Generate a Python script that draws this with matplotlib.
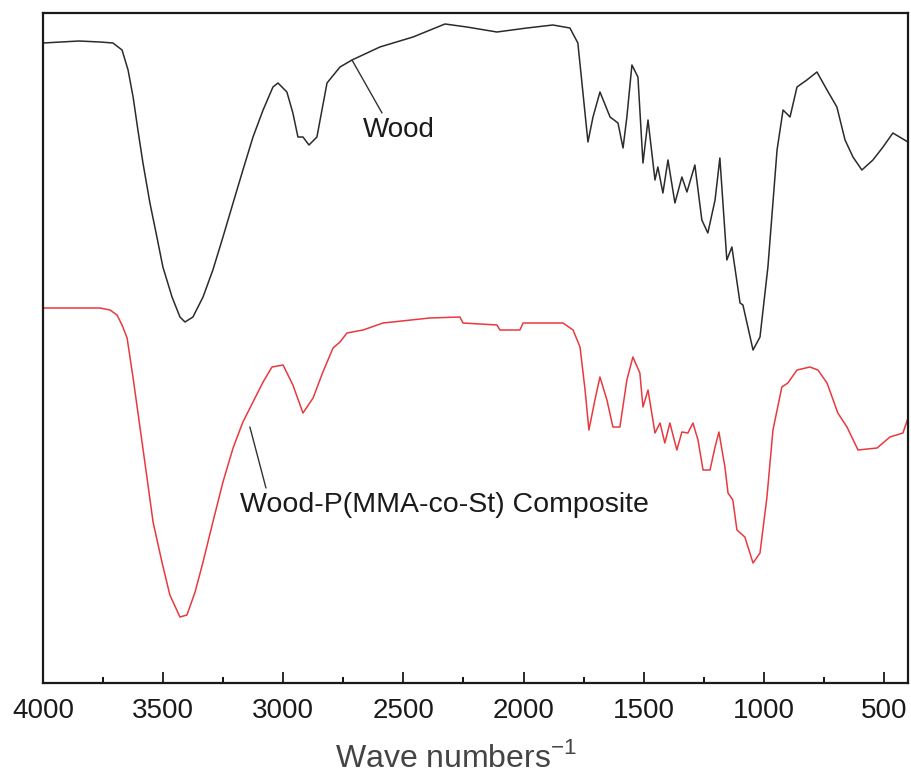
import matplotlib
matplotlib.use("Agg")
import matplotlib.pyplot as plt
from matplotlib.ticker import MultipleLocator

plt.rcParams['font.family'] = ['Liberation Sans', 'DejaVu Sans']
plt.rcParams['mathtext.fontset'] = 'custom'
plt.rcParams['mathtext.rm'] = 'Liberation Sans'

# Wood spectrum (wavenumber in cm-1, transmittance in arbitrary units)
wood_wn = [4000, 3850, 3763, 3709, 3671, 3646, 3625, 3605, 3584, 3555, 3526, 3501, 3463, 3430,
           3409, 3376, 3334, 3293, 3251, 3209, 3168, 3126, 3084, 3043, 3022, 2985, 2960, 2939,
           2918, 2893, 2860, 2818, 2764, 2714, 2598, 2460, 2327, 2236, 2111, 1986, 1878,
           1807, 1774, 1757, 1732, 1711, 1682, 1640, 1607, 1586, 1570, 1549, 1524, 1503, 1482,
           1453, 1441, 1420, 1399, 1370, 1341, 1320, 1287, 1258, 1233, 1203, 1183, 1154, 1133,
           1099, 1087, 1045, 1016, 983, 945, 920, 891, 862, 821, 779, 737, 696, 662, 629, 592,
           546, 504, 463, 400]
wood_t = [640, 642, 641, 640, 633, 613, 586, 553, 520, 480, 446, 416, 386, 366,
          361, 366, 386, 413, 446, 480, 513, 546, 573, 596, 600, 591, 570, 546,
          546, 538, 546, 600, 616, 623, 636, 646, 659, 656, 651, 655, 658,
          655, 640, 600, 541, 566, 591, 566, 560, 535, 566, 618, 606, 520, 563,
          503, 516, 490, 523, 480, 506, 491, 518, 463, 450, 483, 525, 423, 436,
          380, 378, 333, 346, 416, 533, 573, 566, 596, 603, 611, 593, 576, 543, 526, 513,
          523, 536, 550, 541]

# Wood-P(MMA-co-St) composite spectrum
comp_wn = [4000, 3763, 3721, 3692, 3671, 3650, 3625, 3596, 3567, 3542, 3505, 3472, 3430, 3401,
           3367, 3334, 3293, 3251, 3209, 3168, 3126, 3084, 3047, 3001, 2960, 2918, 2876, 2835,
           2793, 2764, 2735, 2668, 2585, 2390, 2265, 2252, 2111,
           2098, 2015, 2002, 1836, 1794, 1765, 1744, 1728, 1703, 1682, 1653, 1628, 1599, 1570,
           1545, 1516, 1503, 1482, 1453, 1432, 1412, 1391, 1362, 1341, 1316, 1295, 1274, 1253,
           1224, 1203, 1187, 1162, 1149, 1129, 1112, 1079, 1045, 1016, 987, 962, 925, 900, 862,
           808, 775, 737, 692, 654, 608, 529, 475, 421, 400]
comp_t = [375, 375, 373, 368, 358, 345, 305, 255, 205, 161, 121, 88, 66, 68,
          91, 121, 161, 201, 235, 261, 281, 301, 316, 318, 298, 270, 285, 311,
          335, 341, 350, 353, 360, 365, 366, 360, 358,
          353, 353, 360, 360, 353, 336, 293, 253, 283, 306, 283, 256, 256, 303,
          326, 310, 276, 293, 250, 260, 240, 260, 233, 251, 250, 260, 243, 213,
          213, 236, 251, 216, 190, 183, 153, 146, 120, 130, 186, 253, 296, 300, 313,
          316, 313, 300, 270, 256, 233, 235, 246, 250, 265]

xticks = [4000, 3500, 3000, 2500, 2000, 1500, 1000, 500]

fig = plt.figure(figsize=(9.11, 7.77), dpi=100)
ax = fig.add_axes([43/911, 94/777, 865/911, 670/777])

ax.plot(wood_wn, wood_t, color='#2b2b2b', lw=1.1)
ax.plot(comp_wn, comp_t, color='#e8393f', lw=1.1)

ax.set_xlim(4000, 400)
ax.set_ylim(0, 670)
ax.set_xticks(xticks)
ax.xaxis.set_minor_locator(MultipleLocator(250))
ax.set_yticks([])
ax.tick_params(axis='x', which='major', direction='in', length=8, width=1.3,
               labelsize=20, pad=11, colors='#1a1a1a')
ax.tick_params(axis='x', which='minor', direction='in', length=4.5, width=1.3)
for s in ax.spines.values():
    s.set_linewidth(1.6)
    s.set_color('#1a1a1a')

ax.set_xlabel('Wave numbers$^{-1}$', fontsize=23, color='#444444')
ax.xaxis.set_label_coords((456 - 43) / 865, -(767 - 683) / 670)
ax.xaxis.label.set_va('baseline')

# Leader lines and labels
ax.annotate('', xy=(2714, 623), xytext=(2589, 570),
            arrowprops=dict(arrowstyle='-', color='#333333', lw=1.0, shrinkA=0, shrinkB=0))
ax.text(2668, 553, 'Wood', fontsize=20, ha='left', va='center', color='#1a1a1a')

ax.annotate('', xy=(3139, 256), xytext=(3072, 195),
            arrowprops=dict(arrowstyle='-', color='#333333', lw=1.0, shrinkA=0, shrinkB=0))
ax.text(3180, 178, 'Wood-P(MMA-co-St) Composite', fontsize=20.5, ha='left', va='center',
        color='#1a1a1a')

fig.savefig('out.png', dpi=100)
